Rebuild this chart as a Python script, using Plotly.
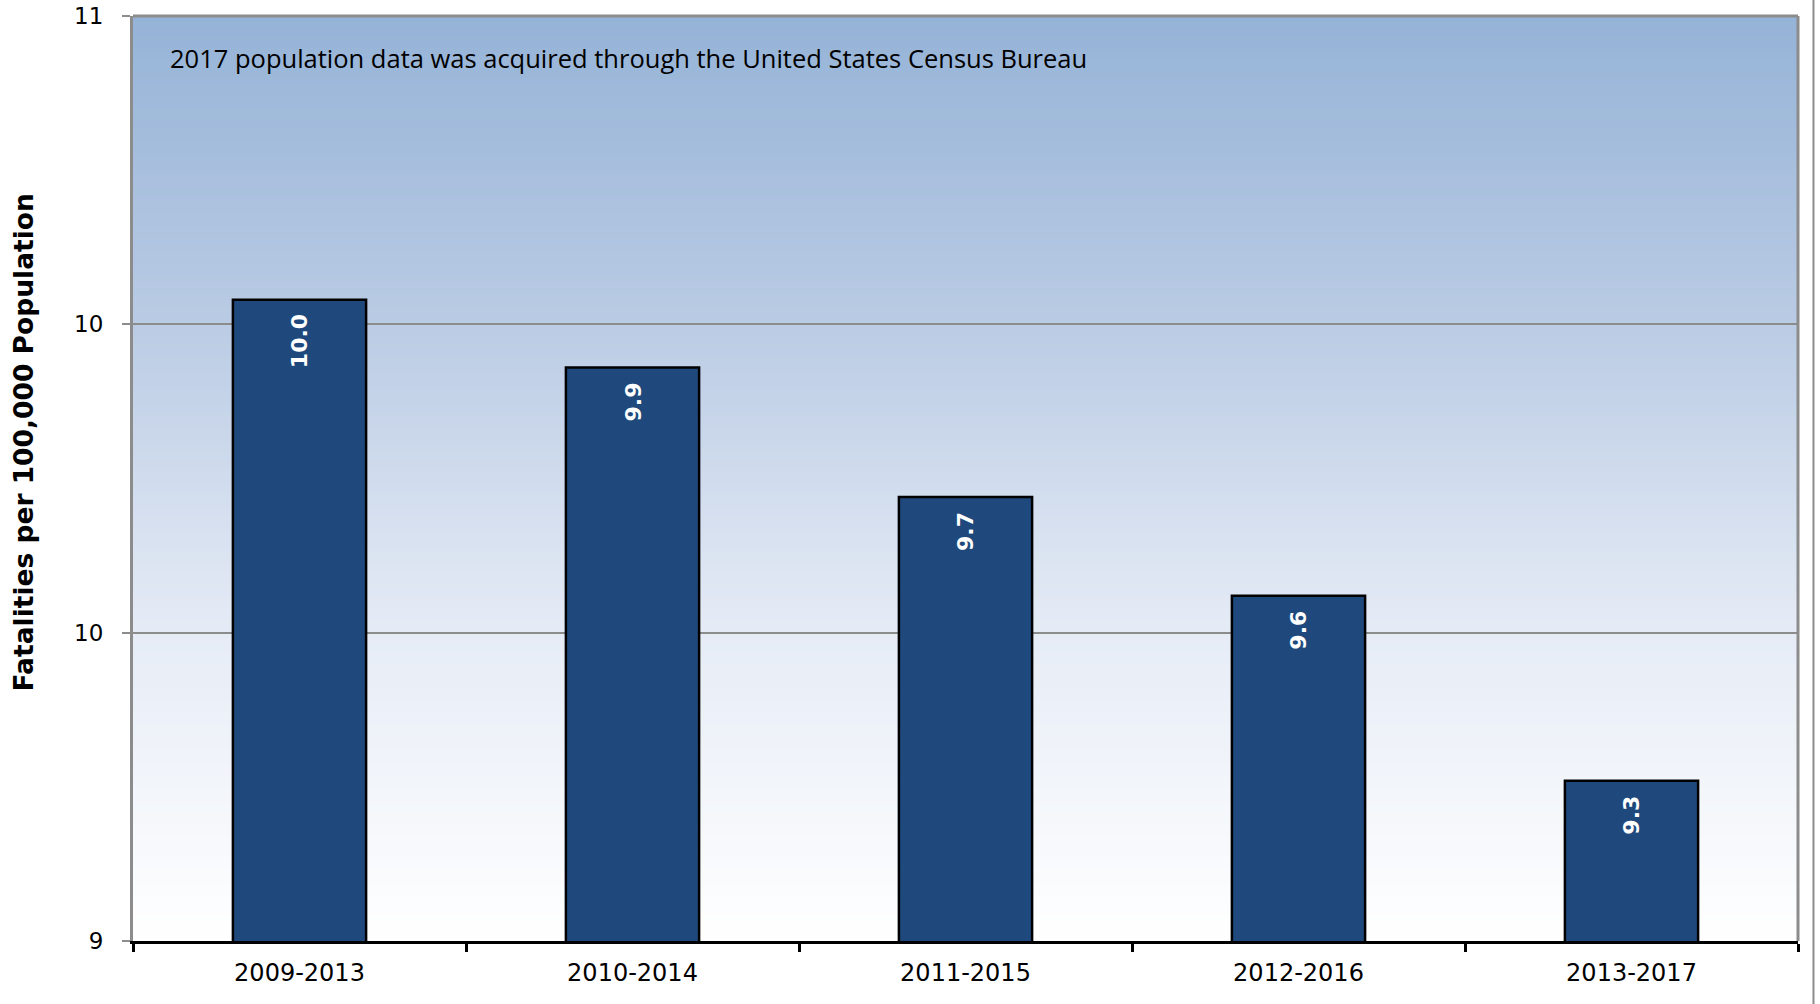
import plotly.graph_objects as go

categories = ["2009-2013", "2010-2014", "2011-2015", "2012-2016", "2013-2017"]
rates = [10.04, 9.93, 9.72, 9.56, 9.26]
bar_labels = ["10.0", "9.9", "9.7", "9.6", "9.3"]
y_tickvals = [9, 9.5, 10, 10.5]
y_ticktext = ["9", "10", "10", "11"]
note_text = "2017 population data was acquired through the United States Census Bureau"
y_title = "Fatalities per 100,000 Population"

fig = go.Figure()
fig.add_trace(go.Bar(
    x=categories, y=rates,
    marker=dict(color="#1F497D", line=dict(color="#000000", width=2.5)),
    hoverinfo="x+y",
))

# vertical gradient background (top blue -> bottom white)
stops = [(0.0, (255, 255, 255)), (0.33, (230, 236, 246)), (0.67, (186, 203, 228)), (1.0, (149, 179, 215))]
def col(t):
    for (a, ca), (b, cb) in zip(stops[:-1], stops[1:]):
        if a <= t <= b:
            f = (t - a) / (b - a)
            return "rgb(%d,%d,%d)" % tuple(round(ca[i] + f * (cb[i] - ca[i])) for i in range(3))
    return "rgb(255,255,255)"

n = 150
shapes = []
for i in range(n):
    y0 = i / n
    y1 = (i + 1) / n + 0.002
    shapes.append(dict(type="rect", xref="x domain", yref="y domain", x0=0, x1=1, y0=y0, y1=min(y1, 1),
                       fillcolor=col((i + 0.5) / n), line=dict(width=0), layer="below"))
# top and right border
shapes.append(dict(type="line", xref="x domain", yref="y domain", x0=0, x1=1, y0=1, y1=1,
                   line=dict(color="#8C8C8C", width=3), layer="above"))
shapes.append(dict(type="line", xref="x domain", yref="y domain", x0=1, x1=1, y0=0, y1=1,
                   line=dict(color="#8C8C8C", width=3), layer="above"))
# outer chart frame line on the right
shapes.append(dict(type="line", xref="paper", yref="paper", x0=1.0093, x1=1.0093, y0=-0.07, y1=1.02,
                   line=dict(color="#8C8C8C", width=2)))

annotations = [
    dict(text=note_text, xref="x domain", yref="y domain", x=0.021, y=0.9546,
         xanchor="left", yanchor="middle", showarrow=False,
         font=dict(family="Open Sans", size=25.5, color="#000000")),
    dict(text="<b>" + y_title + "</b>", xref="paper", yref="paper", x=0, y=0.539,
         xshift=-110, textangle=-90, xanchor="center", yanchor="middle", showarrow=False,
         font=dict(family="DejaVu Sans", size=26.5, color="#000000")),
]
for c, v, lab in zip(categories, rates, bar_labels):
    annotations.append(dict(text="<b>" + lab + "</b>", x=c, y=v, xref="x", yref="y",
                            yanchor="top", yshift=-13, textangle=-90, showarrow=False,
                            font=dict(family="DejaVu Sans", size=22, color="#FFFFFF")))

fig.update_layout(
    width=1820, height=1004,
    margin=dict(l=133, r=22, t=16, b=63, autoexpand=False),
    paper_bgcolor="#FFFFFF", plot_bgcolor="rgba(0,0,0,0)",
    bargap=0.6, showlegend=False,
    shapes=shapes, annotations=annotations,
    xaxis=dict(type="category", showgrid=False, showline=True, linecolor="#000000", linewidth=3,
               ticks="outside", tickson="boundaries", ticklen=8, tickwidth=2.5, tickcolor="#000000",
               automargin=False,
               tickfont=dict(family="DejaVu Sans", size=24, color="#000000"), ticklabelstandoff=8),
    yaxis=dict(range=[9, 10.5], tickvals=y_tickvals, ticktext=y_ticktext,
               showgrid=True, gridcolor="#8C8C8C", gridwidth=1.5, zeroline=False,
               showline=True, linecolor="#8C8C8C", linewidth=3, automargin=False,
               ticks="outside", ticklen=8, tickwidth=2, tickcolor="#8C8C8C",
               tickfont=dict(family="DejaVu Sans", size=23, color="#000000"), ticklabelstandoff=14),
)

fig.write_html("out.html", config={"displayModeBar": False},
               post_script="document.body.style.margin='0';")
